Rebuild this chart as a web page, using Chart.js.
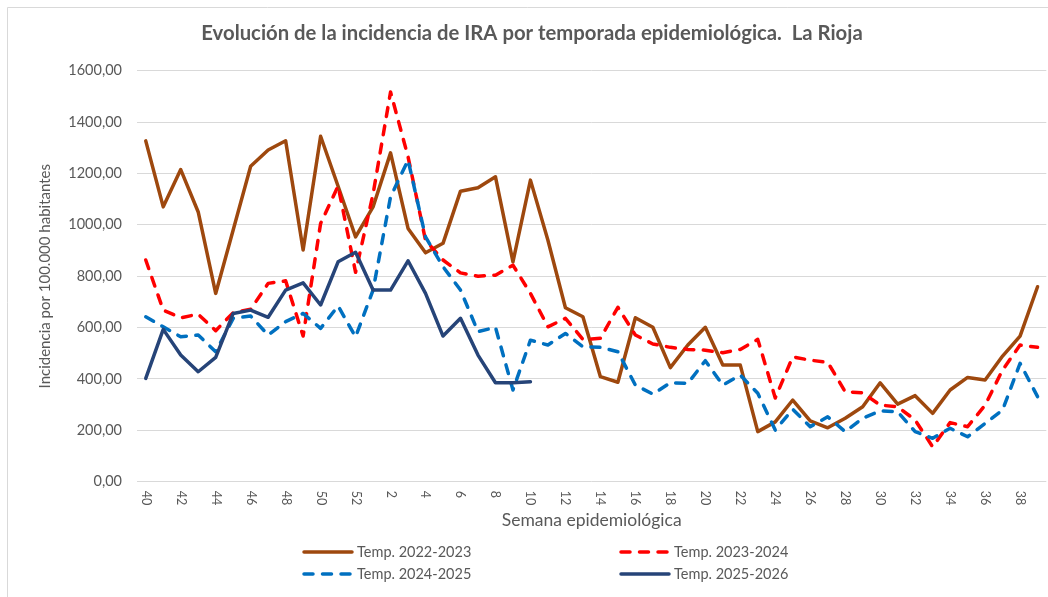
<!DOCTYPE html>
<html>
<head>
<meta charset="utf-8">
<script src="https://cdn.jsdelivr.net/npm/chart.js@4.4.1/dist/chart.umd.min.js"></script>
<style>
    html, body { margin: 0; padding: 0; background: #fff; }
    #wrap { width: 1048px; height: 597px; }
</style>
</head>
<body>
<div id="wrap"><canvas id="myChart" width="1048" height="597"></canvas></div>
<script>
// semanas 40..52 y 1..39
const weeks = [40, 41, 42, 43, 44, 45, 46, 47, 48, 49, 50, 51, 52,
    1, 2, 3, 4, 5, 6, 7, 8, 9, 10, 11, 12, 13, 14, 15, 16, 17, 18, 19, 20,
    21, 22, 23, 24, 25, 26, 27, 28, 29, 30, 31, 32, 33, 34, 35, 36, 37, 38, 39];

const temp2223 = [1327, 1070, 1215, 1050, 733, 980, 1228, 1291, 1327, 902, 1345, 1150, 953,
    1070, 1280, 986, 891, 928, 1131, 1144, 1187, 856, 1174, 940, 677,
    642, 409, 387, 638, 601, 444, 532, 601, 454, 454, 195, 233,
    318, 237, 210, 247, 292, 385, 302, 335, 266, 357, 406, 396, 489, 567, 759];
const temp2324 = [863, 668, 638, 652, 588, 658, 671, 772, 782, 567, 1005, 1151, 815,
    1120, 1517, 1265, 940, 863, 813, 800, 804, 843, 733, 603, 636,
    554, 558, 679, 571, 536, 523, 515, 512, 502, 515, 554, 326,
    486, 473, 465, 350, 346, 298, 292, 240, 136, 230, 214, 298, 435, 532, 523];
const temp2425 = [642, 603, 564, 571, 506, 636, 645, 571, 623, 655, 597, 684, 564,
    746, 1109, 1252, 953, 837, 746, 584, 601, 357, 551, 532, 577,
    525, 523, 506, 376, 341, 385, 383, 471, 376, 415, 344, 201,
    282, 214, 253, 195, 247, 276, 272, 195, 169, 208, 175, 227, 279, 461, 331];
const temp2526 = [402, 593, 493, 428, 484, 655, 668, 640, 746, 774, 688, 856, 893,
    746, 746, 860, 733, 567, 636, 493, 385, 385, 389];

const seriesNames = ["Temp. 2022-2023", "Temp. 2023-2024", "Temp. 2024-2025", "Temp. 2025-2026"];
const yTicks = [0, 200, 400, 600, 800, 1000, 1200, 1400, 1600];

const textColor = "#595959";
const gridColor = "#D9D9D9";
const dash = [9, 9.5];

// marco, titulo, etiquetas del eje x y leyenda
const extras = {
    id: "extras",
    beforeDraw(chart) {
        const ctx = chart.ctx;
        ctx.save();
        ctx.fillStyle = "#fff";
        ctx.fillRect(0, 0, chart.width, chart.height);
        ctx.strokeStyle = gridColor;
        ctx.lineWidth = 1;
        ctx.beginPath();
        ctx.moveTo(7.5, chart.height);
        ctx.lineTo(7.5, 7.5);
        ctx.lineTo(chart.width, 7.5);
        ctx.stroke();
        ctx.restore();
    },
    afterDraw(chart) {
        const ctx = chart.ctx;
        const xs = chart.scales.x;
        ctx.save();
        ctx.fillStyle = textColor;

        ctx.font = "bold 20.3px Lato";
        ctx.textAlign = "center";
        ctx.textBaseline = "middle";
        ctx.fillText("Evolución de la incidencia de IRA por temporada epidemiológica.  La Rioja", 532, 33);

        ctx.font = "12.5px Lato";
        ctx.textAlign = "left";
        for (let i = 0; i < weeks.length; i += 2) {
            ctx.save();
            ctx.translate(xs.getPixelForValue(i), xs.top + 9);
            ctx.rotate(Math.PI / 2);
            ctx.fillText(String(weeks[i]), 0, 0);
            ctx.restore();
        }

        // leyenda 2 x 2
        const cols = [302, 619];
        const rows = [552, 574];
        ctx.font = "14.5px Lato";
        chart.data.datasets.forEach((ds, i) => {
            const x = cols[i % 2];
            const y = rows[Math.floor(i / 2)];
            ctx.save();
            ctx.strokeStyle = ds.borderColor;
            ctx.lineWidth = ds.borderWidth;
            ctx.lineCap = "round";
            ctx.setLineDash(ds.borderDash || []);
            ctx.beginPath();
            ctx.moveTo(x + 2, y);
            ctx.lineTo(x + 50, y);
            ctx.stroke();
            ctx.restore();
            ctx.fillStyle = textColor;
            ctx.fillText(ds.label, x + 55, y);
        });
        ctx.restore();
    }
};

const config = {
    type: "line",
    data: {
        labels: weeks,
        datasets: [
            { label: seriesNames[0], data: temp2223, borderColor: "#9E480E", borderWidth: 3.5, order: 4 },
            { label: seriesNames[1], data: temp2324, borderColor: "#FF0000", borderWidth: 3.5, borderDash: dash, order: 3 },
            { label: seriesNames[2], data: temp2425, borderColor: "#0070C0", borderWidth: 3.5, borderDash: dash, order: 2 },
            { label: seriesNames[3], data: temp2526, borderColor: "#264478", borderWidth: 3.5, order: 1 }
        ]
    },
    options: {
        responsive: false,
        animation: false,
        devicePixelRatio: 1,
        layout: { padding: { left: 0, right: 1.7, top: 70.7, bottom: 60.3 } },
        elements: {
            point: { radius: 0 },
            line: { tension: 0, borderCapStyle: "round", borderJoinStyle: "round", fill: false }
        },
        plugins: {
            legend: { display: false },
            title: { display: false },
            tooltip: { enabled: false }
        },
        scales: {
            x: {
                offset: true,
                grid: { display: false },
                border: { display: false },
                ticks: { display: false },
                afterFit(s) { s.height = 55; },
                title: {
                    display: true,
                    text: "Semana epidemiológica",
                    color: textColor,
                    font: { family: "Lato", size: 17.5 },
                    padding: { top: 0, bottom: 6 }
                }
            },
            y: {
                min: 0,
                max: 1600,
                afterBuildTicks(s) { s.ticks = yTicks.map(v => ({ value: v })); },
                afterFit(s) { s.width = 137; },
                grid: { color: gridColor, lineWidth: 1, drawTicks: false },
                border: { display: false },
                ticks: {
                    padding: 15,
                    color: textColor,
                    font: { family: "Lato", size: 14.5 },
                    callback: v => v.toFixed(2).replace(".", ",")
                },
                title: {
                    display: true,
                    text: "Incidencia por 100.000 habitantes",
                    color: textColor,
                    font: { family: "Lato", size: 15 },
                    padding: { top: 36, bottom: 0 }
                }
            }
        }
    },
    plugins: [extras]
};

let myChart = new Chart("myChart", config);
</script>
</body>
</html>
